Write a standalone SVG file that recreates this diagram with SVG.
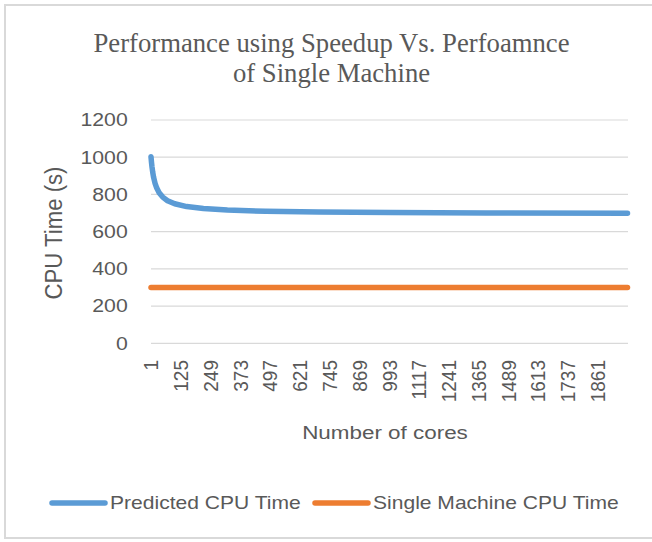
<svg xmlns="http://www.w3.org/2000/svg" width="652" height="542" viewBox="0 0 652 542">
  <style>
    .frame { fill: #ffffff; stroke: #d9d9d9; stroke-width: 2; }
    .grid { stroke: #d9d9d9; stroke-width: 1.2; fill: none; }
    .title { font-family: "Liberation Serif", "Times New Roman", serif; font-size: 26.7px; fill: #595959; text-anchor: middle; }
    .tick { font-family: "Liberation Sans", Arial, sans-serif; font-size: 18px; fill: #595959; }
    .xtick { font-family: "Liberation Sans", Arial, sans-serif; font-size: 19px; fill: #595959; text-anchor: end; }
    .axis-title { font-family: "Liberation Sans", Arial, sans-serif; fill: #595959; text-anchor: middle; }
    .series { fill: none; stroke-width: 5.5; stroke-linecap: round; stroke-linejoin: round; }
    .predicted { stroke: #5b9bd5; }
    .single { stroke: #ed7d31; }
  </style>

  <!-- chart area -->
  <rect id="chart-frame" class="frame" x="5" y="5" width="660" height="533"/>

  <!-- title -->
  <g id="chart-title">
    <text class="title" x="331.5" y="51.7">Performance using Speedup Vs. Perfoamnce</text>
    <text class="title" x="331.5" y="81.7">of Single Machine</text>
  </g>

  <!-- horizontal gridlines, 0 to 1200 step 200 -->
  <g id="gridlines">
    <line class="grid" x1="151" y1="120" x2="628" y2="120"/>
    <line class="grid" x1="151" y1="157.2" x2="628" y2="157.2"/>
    <line class="grid" x1="151" y1="194.4" x2="628" y2="194.4"/>
    <line class="grid" x1="151" y1="231.6" x2="628" y2="231.6"/>
    <line class="grid" x1="151" y1="268.9" x2="628" y2="268.9"/>
    <line class="grid" x1="151" y1="306.1" x2="628" y2="306.1"/>
    <line class="grid" x1="151" y1="343.3" x2="628" y2="343.3"/>
  </g>

  <!-- value axis labels -->
  <g id="y-axis-labels" class="tick" text-anchor="end" transform="translate(127.7,0) scale(1.18,1)">
    <text x="0" y="126.4">1200</text>
    <text x="0" y="163.6">1000</text>
    <text x="0" y="200.8">800</text>
    <text x="0" y="238">600</text>
    <text x="0" y="275.3">400</text>
    <text x="0" y="312.5">200</text>
    <text x="0" y="349.7">0</text>
  </g>

  <!-- category axis labels (rotated) -->
  <g id="x-axis-labels" class="xtick">
    <text transform="translate(151,360) scale(1.1,1) rotate(-90)" x="0" y="6.8">1</text>
    <text transform="translate(180.8,360) scale(1.1,1) rotate(-90)" x="0" y="6.8">125</text>
    <text transform="translate(210.5,360) scale(1.1,1) rotate(-90)" x="0" y="6.8">249</text>
    <text transform="translate(240.3,360) scale(1.1,1) rotate(-90)" x="0" y="6.8">373</text>
    <text transform="translate(270.0,360) scale(1.1,1) rotate(-90)" x="0" y="6.8">497</text>
    <text transform="translate(299.8,360) scale(1.1,1) rotate(-90)" x="0" y="6.8">621</text>
    <text transform="translate(329.6,360) scale(1.1,1) rotate(-90)" x="0" y="6.8">745</text>
    <text transform="translate(359.4,360) scale(1.1,1) rotate(-90)" x="0" y="6.8">869</text>
    <text transform="translate(389.1,360) scale(1.1,1) rotate(-90)" x="0" y="6.8">993</text>
    <text transform="translate(418.9,360) scale(1.1,1) rotate(-90)" x="0" y="6.8">1117</text>
    <text transform="translate(448.6,360) scale(1.1,1) rotate(-90)" x="0" y="6.8">1241</text>
    <text transform="translate(478.4,360) scale(1.1,1) rotate(-90)" x="0" y="6.8">1365</text>
    <text transform="translate(508.2,360) scale(1.1,1) rotate(-90)" x="0" y="6.8">1489</text>
    <text transform="translate(538.0,360) scale(1.1,1) rotate(-90)" x="0" y="6.8">1613</text>
    <text transform="translate(567.7,360) scale(1.1,1) rotate(-90)" x="0" y="6.8">1737</text>
    <text transform="translate(597.4,360) scale(1.1,1) rotate(-90)" x="0" y="6.8">1861</text>
  </g>

  <!-- axis titles -->
  <g id="y-axis-title">
    <text class="axis-title" font-size="21" transform="translate(53.3,233) scale(1.15,1) rotate(-90)" x="0" y="7.5" textLength="133" lengthAdjust="spacingAndGlyphs">CPU Time (s)</text>
  </g>
  <g id="x-axis-title">
    <text class="axis-title" font-size="19" transform="translate(385,438.5) scale(1.18,1)" x="0" y="0">Number of cores</text>
  </g>

  <!-- data series -->
  <g id="series">
    <polyline id="predicted-cpu-time" class="series predicted" points="151,156.7 151.24,159.6 151.48,162.2 151.96,166.6 152.68,172 153.63,177.4 155.07,183.3 156.75,188.1 159.14,192.7 162.74,197.1 167.53,200.7 174.71,203.8 186.7,206.6 203.4,208.6 227.4,210.1 265.7,211.3 318.4,212 390.3,212.6 486.1,212.9 627.5,213.2"/>
    <line id="single-machine-cpu-time" class="series single" x1="151" y1="287.6" x2="627.5" y2="287.6"/>
  </g>

  <!-- legend -->
  <g id="legend">
    <g id="legend-predicted">
      <line class="series predicted" x1="52" y1="503" x2="105" y2="503"/>
      <text class="tick" transform="translate(110,509.4) scale(1.17,1)" x="0" y="0">Predicted CPU Time</text>
    </g>
    <g id="legend-single">
      <line class="series single" x1="315" y1="503" x2="368" y2="503"/>
      <text class="tick" transform="translate(373,509.4) scale(1.17,1)" x="0" y="0">Single Machine CPU Time</text>
    </g>
  </g>
</svg>
